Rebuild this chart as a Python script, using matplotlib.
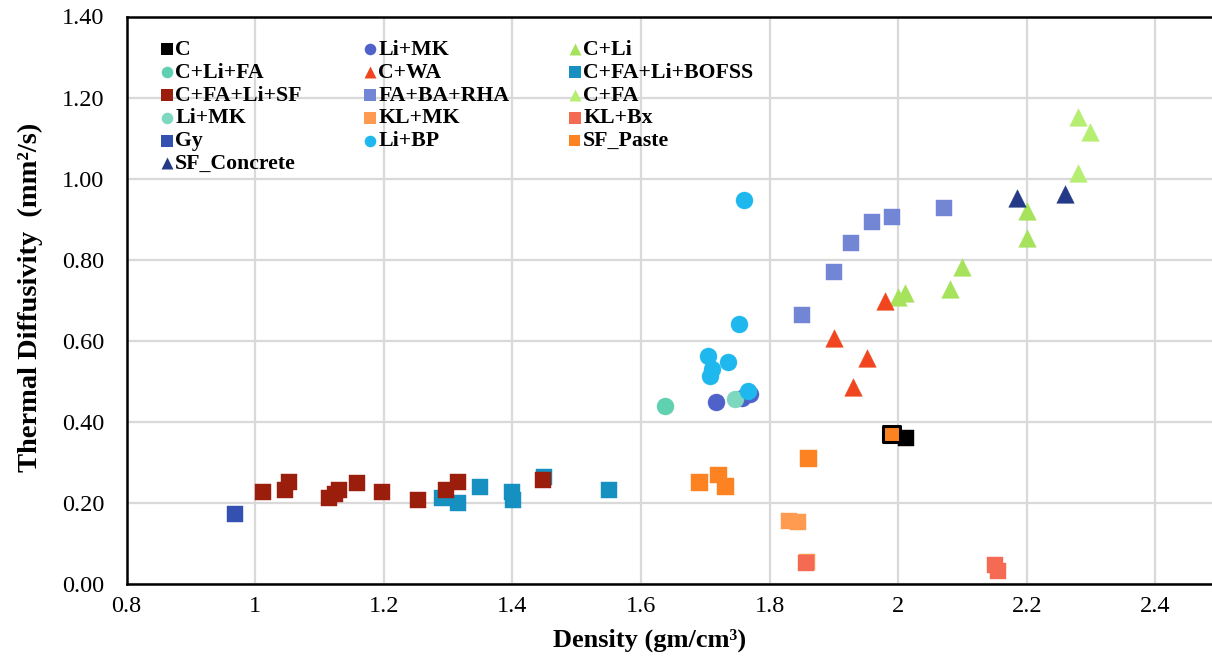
import matplotlib
matplotlib.use("Agg")
import matplotlib.pyplot as plt
from matplotlib.ticker import FormatStrFormatter, FuncFormatter

plt.rcParams['font.family'] = ['Liberation Serif', 'DejaVu Serif']

# ---------------- data ----------------
series_names = ["C", "Li+MK", "C+Li", "C+Li+FA", "C+WA", "C+FA+Li+BOFSS",
                "C+FA+Li+SF", "FA+BA+RHA", "C+FA", "Li+MK ", "KL+MK", "KL+Bx",
                "Gy", "Li+BP", "SF_Paste", "SF_Concrete"]

C_x = [2.012]
C_y = [0.360]
LiMK_x = [1.717, 1.758, 1.769]
LiMK_y = [0.448, 0.458, 0.469]
CLi_x = [2.000, 2.010, 2.080, 2.100, 2.200, 2.200]
CLi_y = [0.709, 0.717, 0.728, 0.783, 0.853, 0.919]
CLiFA_x = [1.637]
CLiFA_y = [0.440]
CWA_x = [1.980, 1.901, 1.951, 1.930]
CWA_y = [0.699, 0.608, 0.558, 0.487]
BOFSS_x = [1.290, 1.315, 1.350, 1.400, 1.401, 1.450, 1.550]
BOFSS_y = [0.213, 0.199, 0.240, 0.228, 0.208, 0.263, 0.231]
SF_x = [1.012, 1.046, 1.053, 1.115, 1.125, 1.130, 1.158, 1.197, 1.253, 1.297, 1.315, 1.447]
SF_y = [0.228, 0.231, 0.252, 0.211, 0.222, 0.232, 0.250, 0.228, 0.208, 0.231, 0.252, 0.257]
FABA_x = [1.851, 1.901, 1.926, 1.960, 1.991, 2.071]
FABA_y = [0.664, 0.770, 0.842, 0.894, 0.906, 0.928]
CFA_x = [2.280, 2.280, 2.299]
CFA_y = [1.015, 1.153, 1.114]
LiMK2_x = [1.746]
LiMK2_y = [0.457]
KLMK_x = [1.830, 1.845, 1.858]
KLMK_y = [0.156, 0.153, 0.055]
KLBx_x = [1.856, 2.150, 2.155]
KLBx_y = [0.052, 0.047, 0.032]
Gy_x = [0.968]
Gy_y = [0.172]
LiBP_x = [1.761, 1.752, 1.705, 1.735, 1.711, 1.707, 1.766]
LiBP_y = [0.948, 0.642, 0.563, 0.548, 0.530, 0.512, 0.477]
SFP_x = [1.861, 1.691, 1.721, 1.732, 1.990]
SFP_y = [0.310, 0.250, 0.269, 0.240, 0.370]
SFC_x = [2.185, 2.259]
SFC_y = [0.952, 0.962]

x_ticks = [0.8, 1.0, 1.2, 1.4, 1.6, 1.8, 2.0, 2.2, 2.4]
y_ticks = [0.0, 0.2, 0.4, 0.6, 0.8, 1.0, 1.2, 1.4]

# ---------------- styles ----------------
styles = [
    ("s", "#000000"), ("o", "#4e62c9"), ("^", "#a6e25c"), ("o", "#5fd0b0"),
    ("^", "#f0451f"), ("s", "#1590c0"), ("s", "#9b1e0d"), ("s", "#7386d5"),
    ("^", "#b6ee72"), ("o", "#7dd8bf"), ("s", "#ff9b50"), ("s", "#f46a52"),
    ("s", "#3451b1"), ("o", "#1eb8ee"), ("s", "#fd8322"), ("^", "#243a86"),
]
data = [(C_x, C_y), (LiMK_x, LiMK_y), (CLi_x, CLi_y), (CLiFA_x, CLiFA_y),
        (CWA_x, CWA_y), (BOFSS_x, BOFSS_y), (SF_x, SF_y), (FABA_x, FABA_y),
        (CFA_x, CFA_y), (LiMK2_x, LiMK2_y), (KLMK_x, KLMK_y), (KLBx_x, KLBx_y),
        (Gy_x, Gy_y), (LiBP_x, LiBP_y), (SFP_x, SFP_y), (SFC_x, SFC_y)]

W, H = 1212, 656
fig = plt.figure(figsize=(W / 100, H / 100), dpi=100)
ax = fig.add_axes([126.5 / W, 72 / H, (1219.6 - 126.5) / W, (584 - 16.5) / H])

handles = []
for i, ((xs, ys), (mk, col)) in enumerate(zip(data, styles)):
    size = {"s": 145, "o": 150, "^": 160}[mk]
    if series_names[i] == "SF_Paste":
        ec = [col] * (len(xs) - 1) + ["#000000"]
        lw = [0.3] * (len(xs) - 1) + [2.2]
    else:
        ec = col
        lw = 0.3
    h = ax.scatter(xs, ys, marker=mk, s=size, c=col, edgecolors=ec,
                   linewidths=lw, zorder=3 + i * 0.01)
    handles.append(h)

ax.set_xlim(0.8, 2.5)
ax.set_ylim(0.0, 1.4)
ax.set_xticks(x_ticks)
ax.set_yticks(y_ticks)
ax.xaxis.set_major_formatter(FuncFormatter(lambda v, p: f"{v:g}"))
ax.yaxis.set_major_formatter(FormatStrFormatter("%.2f"))
ax.grid(True, color="#d9d9d9", linewidth=1.6, zorder=0)
ax.set_axisbelow(True)
ax.tick_params(axis="both", length=0, labelsize=17.5)
ax.tick_params(axis="x", pad=9)
ax.tick_params(axis="y", pad=16)
for sp in ["left", "bottom", "top"]:
    ax.spines[sp].set_color("black")
    ax.spines[sp].set_linewidth(1.8)
ax.spines["right"].set_visible(False)

ax.set_xlabel("Density (gm/cm³)", fontsize=19, fontweight="bold")
ax.set_ylabel("Thermal Diffusivity  (mm²/s)", fontsize=20.5, fontweight="bold")
ax.xaxis.set_label_coords((650 - 126.5) / (1219.6 - 126.5), -(640 - 584) / (584 - 16.5), transform=ax.transAxes)
ax.xaxis.label.set_va("center")
ax.yaxis.set_label_coords(-(126.5 - 30) / (1219.6 - 126.5), (584 - 297) / (584 - 16.5), transform=ax.transAxes)
ax.yaxis.label.set_va("center")

# ---------------- legend (3 equal-width columns, row-major order) ----------------
labels = ["C", "Li+MK", "C+Li", "C+Li+FA", "C+WA", "C+FA+Li+BOFSS",
          "C+FA+Li+SF", "FA+BA+RHA", "C+FA", "Li+MK", "KL+MK", "KL+Bx",
          "Gy", "Li+BP", "SF_Paste", "SF_Concrete"]
col_x = [160, 363, 568]
top_y = H - 39.5
for c in range(3):
    idx = list(range(c, len(labels), 3))
    leg = fig.legend([handles[k] for k in idx], [labels[k] for k in idx],
                     loc="upper left", bbox_to_anchor=(col_x[c] / W, top_y / H),
                     bbox_transform=fig.transFigure, frameon=False,
                     prop={"family": "Liberation Serif", "weight": "bold", "size": 15.7},
                     handlelength=0.6, handletextpad=0.1, borderpad=0,
                     borderaxespad=0, labelspacing=0.12, markerscale=0.68,
                     scatterpoints=1)
    for lh in leg.legend_handles:
        lh.set_linewidths(0)

fig.savefig("out.png", dpi=100)
